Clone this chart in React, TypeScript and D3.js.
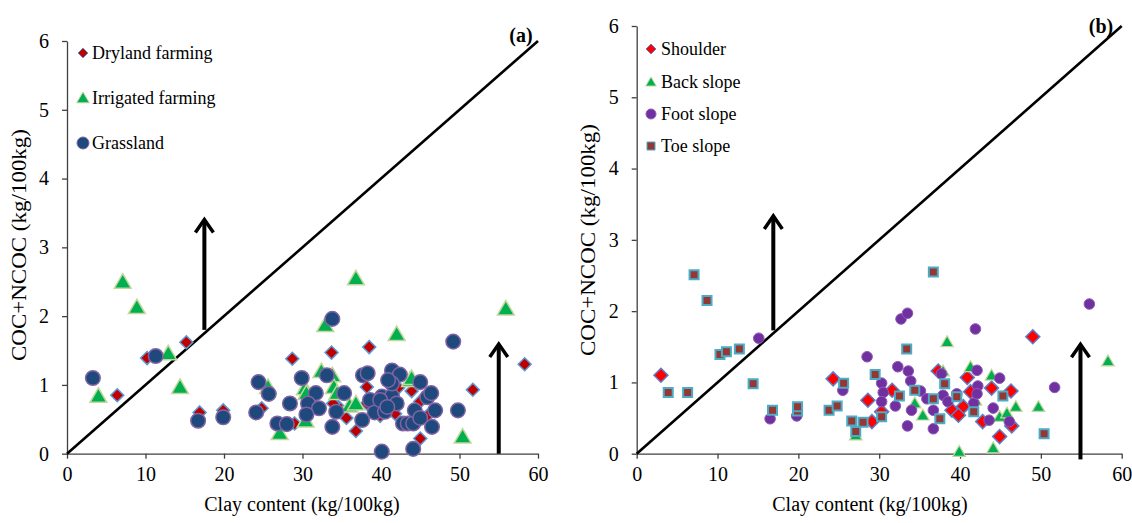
import React, { useEffect, useRef } from 'react';
import * as d3 from 'd3';

const width = 1132,
      height = 523;

const xTicks = [0, 10, 20, 30, 40, 50, 60];
const yTicks = [0, 1, 2, 3, 4, 5, 6];

// panel (a): land use
const dryland: [number, number][] = [
    [6.4, 0.85], [10.2, 1.39], [15.2, 1.62], [16.9, 0.60], [19.9, 0.63], [24.8, 0.66],
    [28.7, 1.38], [29.0, 0.44], [33.7, 1.47], [34.4, 0.70], [33.9, 0.73], [35.6, 0.52],
    [36.8, 0.33], [38.2, 0.97], [38.2, 0.73], [38.5, 1.55], [39.9, 0.55], [41.8, 0.58],
    [42.2, 0.96], [43.9, 0.91], [45.0, 0.76], [45.0, 0.22], [45.9, 0.55], [51.7, 0.93],
    [58.3, 1.30],
];
const irrigated: [number, number][] = [
    [4.0, 0.84], [7.1, 2.50], [8.9, 2.13], [12.9, 1.46], [14.4, 0.97], [25.6, 0.97],
    [27.1, 0.30], [30.3, 0.95], [30.4, 0.48], [30.5, 0.88], [32.4, 1.20], [32.9, 1.87],
    [33.8, 1.14], [34.0, 0.97], [34.4, 0.88], [36.0, 0.70], [36.8, 0.73], [36.8, 2.55],
    [42.0, 1.74], [43.7, 1.07], [43.9, 1.10], [50.4, 0.25], [55.9, 2.11],
];
const grassland: [number, number][] = [
    [3.3, 1.10], [11.3, 1.42], [16.7, 0.48], [19.9, 0.53], [24.4, 1.04], [25.7, 0.87],
    [24.1, 0.60], [26.8, 0.44], [28.0, 0.43], [28.4, 0.73], [29.9, 1.10], [31.7, 0.88],
    [30.7, 0.73], [32.1, 0.66], [30.5, 0.57], [33.8, 1.96], [33.1, 1.14], [34.3, 0.61],
    [35.3, 0.88], [33.8, 0.39], [37.7, 1.14], [38.3, 1.17], [41.4, 1.21], [42.4, 1.15],
    [38.6, 0.78], [40.1, 0.83], [41.4, 0.84], [42.0, 0.73], [39.2, 0.60], [40.5, 0.61],
    [37.6, 0.49], [39.9, 0.78], [40.8, 0.68], [41.4, 1.02], [40.9, 1.07], [42.8, 0.44],
    [43.4, 0.44], [44.1, 0.44], [45.0, 1.04], [45.9, 0.82], [46.4, 0.88], [46.9, 0.63],
    [44.3, 0.63], [45.0, 0.52], [46.5, 0.39], [49.2, 1.63], [49.8, 0.63], [40.1, 0.03],
    [44.1, 0.07],
];

// panel (b): slope position
const shoulder: [number, number][] = [
    [3.0, 1.10], [24.3, 1.05], [28.6, 0.75], [29.1, 0.45], [31.6, 0.89], [30.3, 0.59],
    [37.3, 1.16], [39.0, 0.61], [40.9, 1.07], [41.3, 0.87], [40.4, 0.66], [39.8, 0.54],
    [42.8, 0.45], [44.9, 0.24], [43.9, 0.92], [46.3, 0.88], [46.4, 0.39], [49.0, 1.64],
];
const backSlope: [number, number][] = [
    [27.1, 0.26], [34.4, 0.71], [35.4, 0.54], [37.9, 1.16], [38.4, 1.57], [39.9, 0.03],
    [41.3, 1.22], [41.9, 0.75], [43.9, 1.10], [44.9, 0.52], [45.8, 0.57], [46.9, 0.66],
    [49.7, 0.66], [44.1, 0.08], [58.3, 1.30],
];
const footSlope: [number, number][] = [
    [15.1, 1.62], [16.5, 0.49], [19.8, 0.53], [25.5, 0.89], [28.5, 1.36], [30.3, 0.99],
    [30.5, 0.86], [30.3, 0.73], [32.0, 0.67], [32.3, 1.22], [32.7, 1.89], [33.5, 1.97],
    [33.6, 1.16], [33.9, 1.02], [35.1, 0.88], [33.5, 0.39], [36.7, 0.35], [35.9, 0.77],
    [36.7, 0.61], [34.0, 0.61], [37.9, 0.82], [38.5, 0.73], [37.7, 1.12], [39.6, 0.84],
    [41.7, 0.71], [41.9, 1.75], [42.1, 1.17], [42.2, 0.95], [42.1, 0.84], [44.9, 1.06],
    [44.1, 0.64], [43.6, 0.47], [46.1, 0.45], [51.7, 0.93], [56.0, 2.10],
];
const toeSlope: [number, number][] = [
    [7.1, 2.51], [8.7, 2.15], [3.9, 0.86], [6.3, 0.86], [10.3, 1.39], [11.1, 1.43],
    [12.7, 1.47], [14.4, 0.98], [16.8, 0.61], [19.9, 0.60], [19.9, 0.66], [23.8, 0.61],
    [24.8, 0.67], [25.6, 0.99], [26.6, 0.46], [28.0, 0.44], [27.1, 0.31], [29.5, 1.11],
    [30.3, 0.52], [32.5, 0.81], [33.4, 1.47], [34.4, 0.89], [36.7, 0.77], [36.7, 2.55],
    [37.5, 0.49], [38.1, 0.98], [39.6, 0.80], [41.7, 0.59], [45.3, 0.81], [50.4, 0.28],
];

// arrows: [x, yFrom, yTo]
const arrowsA: [number, number, number][] = [[17.5, 1.8, 3.42], [55, 0, 1.61]];
const arrowsB: [number, number, number][] = [[16.9, 1.73, 3.35], [54.9, -0.08, 1.55]];

const serif = '"Liberation Serif", "Times New Roman", serif';

const shapePath = (shape: string, s: number) => {
    if (shape === 'diamond') return `M0,${-s}L${s},0L0,${s}L${-s},0Z`;
    if (shape === 'triangle') return `M0,${-s}L${s * 1.05},${s * 0.8}L${-s * 1.05},${s * 0.8}Z`;
    if (shape === 'square') return `M${-s},${-s}H${s}V${s}H${-s}Z`;
    return d3.symbol(d3.symbolCircle, Math.PI * s * s)() as string;
};

const App = () => {
    const ref = useRef<SVGSVGElement>(null);

    useEffect(() => {
        const svg = d3.select(ref.current);
        svg.selectAll('*').remove();

        const panels = [
            {
                x: d3.scaleLinear().domain([0, 60]).range([67, 538]),
                y: d3.scaleLinear().domain([0, 6]).range([453.7, 41]),
                tag: '(a)', tagPos: [521, 42],
                arrows: arrowsA,
                legendX: 83, legendText: 92,
                series: [
                    { name: 'Dryland farming', data: dryland, shape: 'diamond', s: 6.5, fill: '#C00000', stroke: '#5B9BD5', sw: 1.5, ly: 53, ls: 5 },
                    { name: 'Irrigated farming', data: irrigated, shape: 'triangle', s: 8, fill: '#00B050', stroke: '#C3D69B', sw: 1.5, ly: 98, ls: 6 },
                    { name: 'Grassland', data: grassland, shape: 'circle', s: 7.3, fill: '#1F497D', stroke: '#8064A2', sw: 1.5, ly: 143, ls: 6 },
                ],
                yTitleX: 19, yTitleY: 245, xTitleX: 302,
            },
            {
                x: d3.scaleLinear().domain([0, 60]).range([636.7, 1121.7]),
                y: d3.scaleLinear().domain([0, 6]).range([453.7, 26]),
                tag: '(b)', tagPos: [1101, 33],
                arrows: arrowsB,
                legendX: 651, legendText: 661,
                series: [
                    { name: 'Shoulder', data: shoulder, shape: 'diamond', s: 7, fill: '#FF0000', stroke: '#5B7FC9', sw: 1.5, ly: 49, ls: 5 },
                    { name: 'Back slope', data: backSlope, shape: 'triangle', s: 6, fill: '#00B050', stroke: '#C3D69B', sw: 1.2, ly: 82, ls: 5 },
                    { name: 'Foot slope', data: footSlope, shape: 'circle', s: 5.3, fill: '#7030A0', stroke: '#8E5AB8', sw: 1, ly: 114, ls: 5 },
                    { name: 'Toe slope', data: toeSlope, shape: 'square', s: 4.5, fill: '#953735', stroke: '#4BACC6', sw: 2, ly: 146, ls: 4 },
                ],
                yTitleX: 588, yTitleY: 240, xTitleX: 870,
            },
        ];

        panels.forEach(p => {
            const g = svg.append('g');
            const x0 = p.x.range()[0];
            const y0 = p.y.range()[0];

            // axes
            const ax = g.append('g').attr('transform', `translate(0,${y0})`)
                .call(d3.axisBottom(p.x).tickValues(xTicks).tickFormat(d3.format('d')).tickSize(5).tickSizeOuter(0).tickPadding(8));
            const ay = g.append('g').attr('transform', `translate(${x0},0)`)
                .call(d3.axisLeft(p.y).tickValues(yTicks).tickFormat(d3.format('d')).tickSize(5).tickSizeOuter(0).tickPadding(13));
            [ax, ay].forEach(a => {
                a.selectAll('path, line').attr('stroke', '#404040').attr('stroke-width', 1.3);
                a.selectAll('text').attr('font-family', serif).attr('font-size', 20).attr('fill', '#000');
            });

            // 1:1 reference line
            g.append('line')
                .attr('x1', p.x(0)).attr('y1', p.y(0))
                .attr('x2', p.x(60)).attr('y2', p.y(6))
                .attr('stroke', '#000').attr('stroke-width', 2.6);

            // arrows
            p.arrows.forEach(([ax0, yf, yt]) => {
                const cx = p.x(ax0);
                g.append('line').attr('x1', cx).attr('x2', cx)
                    .attr('y1', p.y(yf)).attr('y2', p.y(yt) + 2)
                    .attr('stroke', '#000').attr('stroke-width', 4);
                g.append('path')
                    .attr('d', `M${cx - 9},${p.y(yt) + 14}L${cx},${p.y(yt) + 1}L${cx + 9},${p.y(yt) + 14}`)
                    .attr('fill', 'none').attr('stroke', '#000').attr('stroke-width', 3.5)
                    .attr('stroke-linejoin', 'miter');
            });

            // points
            p.series.forEach(s => {
                g.append('g').selectAll('path')
                    .data(s.data).enter().append('path')
                    .attr('d', shapePath(s.shape, s.s))
                    .attr('transform', d => `translate(${p.x(d[0])},${p.y(d[1])})`)
                    .attr('fill', s.fill).attr('stroke', s.stroke).attr('stroke-width', s.sw);

                // legend
                g.append('path')
                    .attr('d', shapePath(s.shape, s.ls))
                    .attr('transform', `translate(${p.legendX},${s.ly})`)
                    .attr('fill', s.fill).attr('stroke', s.stroke).attr('stroke-width', 1);
                g.append('text')
                    .text(s.name)
                    .attr('x', p.legendText).attr('y', s.ly)
                    .attr('dy', '0.35em')
                    .attr('font-family', serif).attr('font-size', 18);
            });

            // panel tag
            g.append('text').text(p.tag)
                .attr('x', p.tagPos[0]).attr('y', p.tagPos[1])
                .attr('text-anchor', 'middle')
                .attr('font-family', serif).attr('font-weight', 'bold').attr('font-size', 20);

            // titles
            g.append('text').text('Clay content (kg/100kg)')
                .attr('x', p.xTitleX).attr('y', 511)
                .attr('text-anchor', 'middle')
                .attr('font-family', serif).attr('font-size', 20);
            g.append('text').text('COC+NCOC (kg/100kg)')
                .attr('transform', `translate(${p.yTitleX},${p.yTitleY}) rotate(-90) scale(1.15,1)`)
                .attr('text-anchor', 'middle').attr('dy', '0.35em')
                .attr('font-family', serif).attr('font-size', 20);
        });
    }, []);

    return (
        <svg
            ref={ref}
            width={width}
            height={height}
            style={{ position: 'absolute', left: 0, top: 0, background: '#fff' }}>
        </svg>
    );
};

export default App;
